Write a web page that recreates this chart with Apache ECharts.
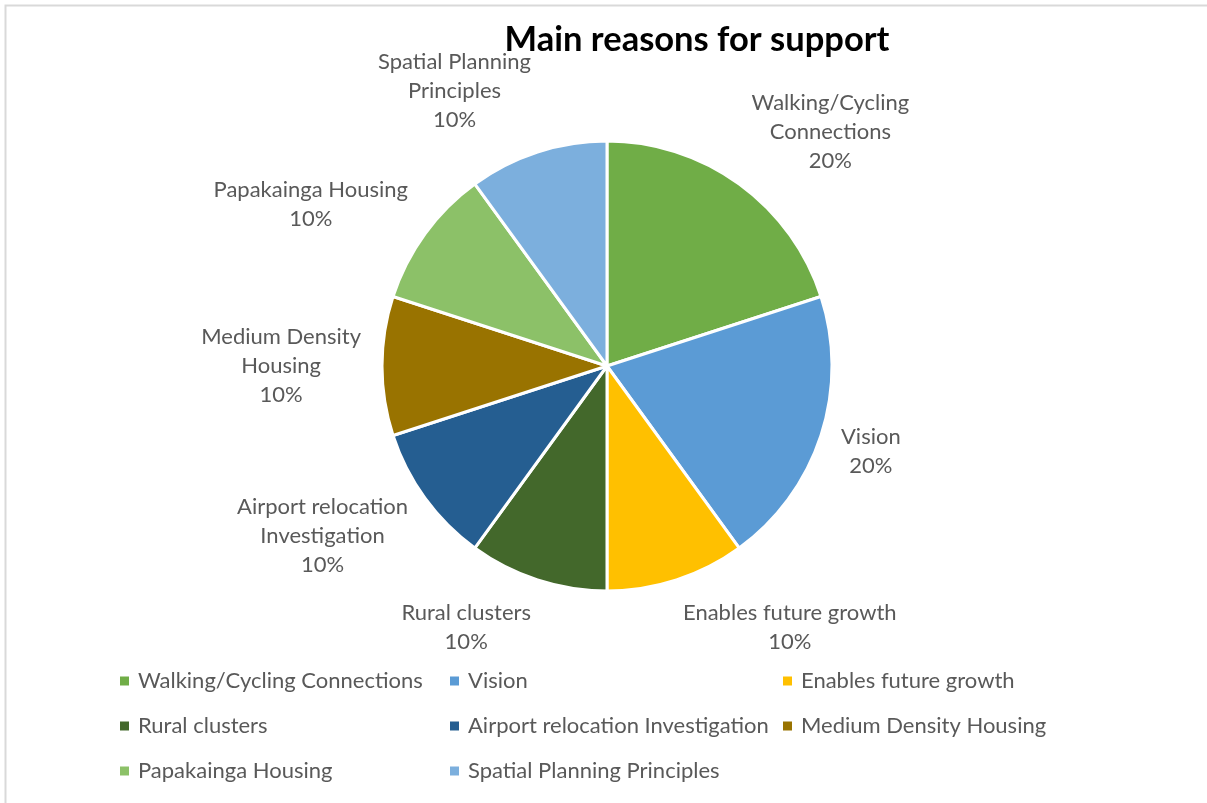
<!DOCTYPE html>
<html>
<head>
<meta charset="utf-8">
<script src="https://cdn.jsdelivr.net/npm/echarts@6/dist/echarts.min.js"></script>
<style>html,body{margin:0;padding:0;background:#fff;}#c{width:1207px;height:803px;}</style>
</head>
<body>
<div id="c"></div>
<script>
const categories = ['Walking/Cycling Connections','Vision','Enables future growth','Rural clusters','Airport relocation Investigation','Medium Density Housing','Papakainga Housing','Spatial Planning Principles'];
const values = [20,20,10,10,10,10,10,10];
const labelTexts = ['Walking/Cycling\nConnections','Vision','Enables future growth','Rural clusters','Airport relocation\nInvestigation','Medium Density\nHousing','Papakainga Housing','Spatial Planning\nPrinciples'];
const colors = ['#70AD47','#5B9BD5','#FFC000','#43682B','#255E91','#997300','#8CC168','#7CAFDD'];
const legendCols = [
  ['Walking/Cycling Connections','Rural clusters','Papakainga Housing'],
  ['Vision','Airport relocation Investigation','Spatial Planning Principles'],
  ['Enables future growth','Medium Density Housing']
];
const legendLefts = [120, 450, 783];

const CX = 607, CY = 366, R = 225, GAP = 21;
const total = values.reduce((a,b)=>a+b,0);
const cumBefore = values.map((v,i)=>values.slice(0,i).reduce((a,b)=>a+b,0));
const FONT = 'Lato, Calibri, "Open Sans", sans-serif';

const chart = echarts.init(document.getElementById('c'), null, {renderer:'canvas'});
chart.setOption({
  backgroundColor:'#fff',
  animation:false,
  graphic:[{type:'rect', shape:{x:5.5,y:5.5,width:1230,height:830}, style:{fill:'none', stroke:'#d9d9d9', lineWidth:2}, silent:true}],
  title:{text:'Main reasons for support', left:697, top:22, textAlign:'center', padding:0,
    textStyle:{fontFamily:FONT, fontWeight:'bold', fontSize:34.5, color:'#000'}},
  legend: legendCols.map((col,k)=>({
    data: col, orient:'vertical', left: legendLefts[k], top: 670, itemGap: 23, padding:0,
    icon:'rect', itemWidth:9, itemHeight:9, itemStyle:{borderWidth:0},
    textStyle:{fontFamily:FONT, fontSize:22, color:'#595959', lineHeight:22, padding:[0,0,0,4]},
    selectedMode:false
  })),
  series:[{
    type:'pie', center:[CX,CY], radius:R, startAngle:90, clockwise:true,
    avoidLabelOverlap:false,
    data: categories.map((n,i)=>({name:n, value:values[i], itemStyle:{color:colors[i]}})),
    itemStyle:{borderColor:'#fff', borderWidth:3},
    label:{show:true, position:'outside', fontFamily:FONT, fontSize:22, color:'#595959', lineHeight:29,
      formatter:(p)=>labelTexts[p.dataIndex]+'\n'+Math.round(p.percent)+'%'},
    labelLine:{show:false},
    labelLayout:(p)=>{
      const i = p.dataIndex;
      const mid = (cumBefore[i] + values[i]/2)/total*2*Math.PI;
      const dx = Math.sin(mid), dy = -Math.cos(mid);
      const w = p.labelRect.width, h = p.labelRect.height;
      const sx = Math.abs(dx) < 1e-6 ? 0 : Math.sign(dx);
      return {x: CX + (R+GAP)*dx + sx*w/2, y: CY + (R+GAP)*dy + dy*h/2, align:'center', verticalAlign:'middle'};
    },
    emphasis:{disabled:true}
  }]
});
</script>
</body>
</html>
